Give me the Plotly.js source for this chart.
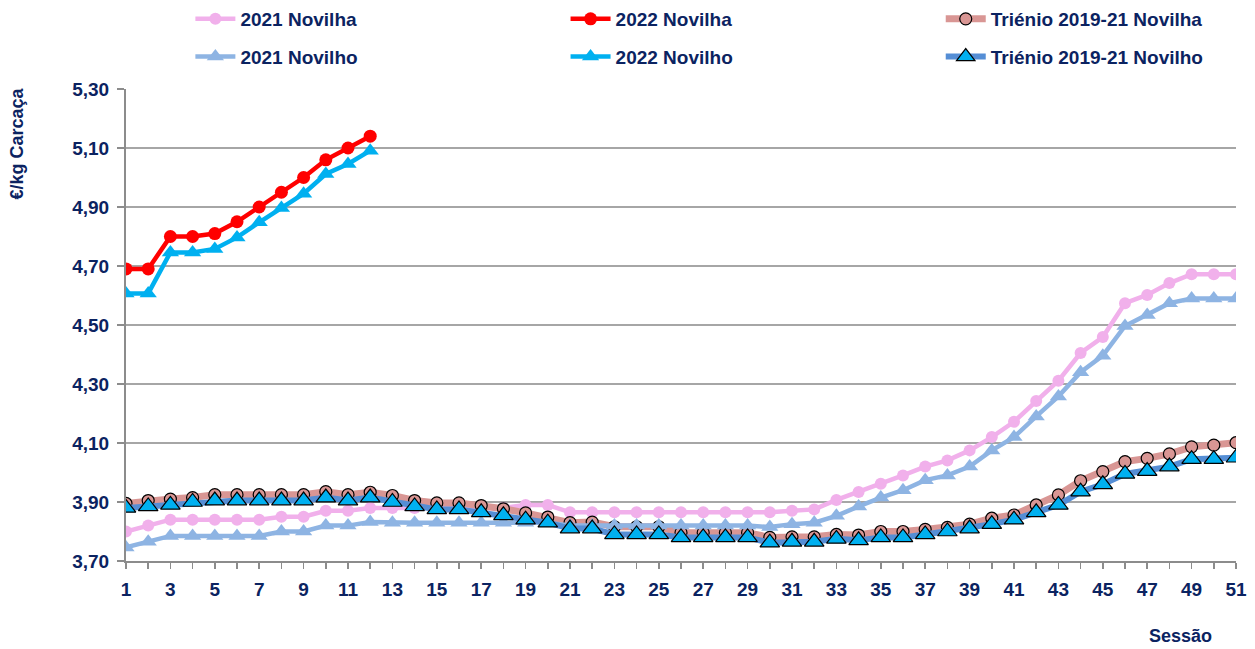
<!DOCTYPE html>
<html>
<head>
<meta charset="utf-8">
<script src="https://cdn.plot.ly/plotly-3.0.1.min.js"></script>
<style>body{margin:0;background:#fff}#chart{width:1255px;height:649px}</style>
</head>
<body>
<div id="chart"></div>
<script>
const sessions = Array.from({length: 51}, (_, i) => i + 1);

const novilha2021 = [3.80,3.82,3.84,3.84,3.84,3.84,3.84,3.85,3.85,3.87,3.87,3.88,3.88,3.88,3.88,3.88,3.88,3.88,3.89,3.89,
  3.865,3.865,3.865,3.865,3.865,3.865,3.865,3.865,3.865,3.865,3.87,3.875,3.907,3.934,3.962,3.99,4.02,4.041,4.075,4.12,
  4.172,4.242,4.311,4.405,4.459,4.574,4.602,4.642,4.672,4.672,4.672];

const novilha2022 = [4.69,4.69,4.80,4.80,4.81,4.85,4.90,4.95,5.00,5.06,5.10,5.14];

const novilhaTrienio = [3.895,3.905,3.91,3.915,3.925,3.925,3.925,3.925,3.925,3.935,3.925,3.933,3.922,3.905,3.897,3.897,3.888,3.877,3.863,3.849,
  3.83,3.832,3.816,3.816,3.816,3.796,3.796,3.796,3.796,3.78,3.782,3.782,3.79,3.788,3.80,3.80,3.807,3.814,3.825,3.845,
  3.856,3.89,3.924,3.972,4.003,4.037,4.048,4.063,4.087,4.093,4.101];

const novilho2021 = [3.746,3.765,3.785,3.785,3.785,3.785,3.785,3.80,3.80,3.82,3.82,3.832,3.83,3.83,3.83,3.83,3.83,3.83,3.83,3.83,
  3.82,3.82,3.82,3.82,3.82,3.82,3.82,3.82,3.82,3.815,3.825,3.83,3.853,3.885,3.915,3.94,3.974,3.99,4.02,4.075,
  4.12,4.19,4.258,4.34,4.396,4.497,4.534,4.574,4.59,4.59,4.59];

const novilho2022 = [4.607,4.607,4.746,4.746,4.758,4.797,4.848,4.897,4.945,5.012,5.046,5.091];

const novilhoTrienio = [3.88,3.885,3.89,3.90,3.905,3.905,3.905,3.905,3.905,3.915,3.905,3.915,3.90,3.885,3.875,3.875,3.865,3.855,3.84,3.83,
  3.81,3.81,3.79,3.79,3.79,3.78,3.78,3.78,3.78,3.762,3.765,3.765,3.775,3.77,3.78,3.78,3.79,3.80,3.81,3.825,
  3.84,3.865,3.89,3.935,3.96,3.995,4.005,4.02,4.045,4.045,4.05];

const names = ['2021 Novilha','2022 Novilha','Triénio 2019-21 Novilha','2021 Novilho','2022 Novilho','Triénio 2019-21 Novilho'];

const navy = '#0B2361';
const FONT = 'Liberation Sans, Arial, sans-serif';

function tr(y, name, lineColor, lw, sym, msize, mfill, mline, legend, rank) {
  return {
    x: sessions.slice(0, y.length), y: y, name: name, type: 'scatter', mode: 'lines+markers',
    line: {color: lineColor, width: lw},
    marker: {symbol: sym, size: msize, color: mfill, line: {color: mline ? '#000000' : mfill, width: mline ? 1.2 : 0}},
    legend: legend, legendrank: rank, legendgroup: name, hoverinfo: 'x+y'
  };
}

const data = [
  tr(novilha2021, names[0], '#F1B0EB', 4.5, 'circle', 12, '#F1B0EB', false, 'legend', 1),
  tr(novilha2022, names[1], '#FF0000', 4.5, 'circle', 13, '#FF0000', false, 'legend2', 1),
  tr(novilhaTrienio, names[2], '#D99694', 7, 'circle', 12, '#D99694', true, 'legend3', 1),
  tr(novilho2021, names[3], '#8EB4E3', 4.5, 'triangle-up', 15, '#8EB4E3', false, 'legend', 2),
  tr(novilho2022, names[4], '#00B0F0', 4.5, 'triangle-up', 15, '#00B0F0', false, 'legend2', 2),
  tr(novilhoTrienio, names[5], '#558ED5', 6, 'triangle-up', 17, '#00B0F0', true, 'legend3', 2)
];

function leg(x) {
  return {x: x, y: 1.0, xref: 'paper', yref: 'container', xanchor: 'left', yanchor: 'top', orientation: 'v', tracegroupgap: 10,
    font: {family: FONT, size: 19, color: navy, weight: 'bold'}, bgcolor: 'rgba(0,0,0,0)', itemwidth: 40};
}

const layout = {
  width: 1255, height: 649,
  margin: {l: 126, r: 19, t: 89, b: 88},
  paper_bgcolor: '#ffffff', plot_bgcolor: '#ffffff',
  separators: ', ',
  font: {family: FONT, color: navy},
  showlegend: true,
  legend: leg(0.058),
  legend2: leg(0.396),
  legend3: leg(0.734),
  xaxis: {
    range: [1, 51], tick0: 1, dtick: 2, showgrid: false, zeroline: false,
    showline: true, linecolor: '#8C8C8C', linewidth: 2,
    ticks: 'outside', ticklen: 6, tickwidth: 1.5, tickcolor: '#8C8C8C',
    minor: {dtick: 1, tick0: 1, ticks: 'outside', ticklen: 6, tickwidth: 1.5, tickcolor: '#8C8C8C', showgrid: false},
    tickfont: {family: FONT, size: 19, color: navy, weight: 'bold'},
    ticklabelstandoff: 4
  },
  yaxis: {
    range: [3.7, 5.3], tick0: 3.7, dtick: 0.2, tickformat: '.2f',
    showgrid: true, gridcolor: '#A6A6A6', gridwidth: 1.5, zeroline: false,
    showline: true, linecolor: '#8C8C8C', linewidth: 2,
    ticks: 'outside', ticklen: 7, tickwidth: 1.5, tickcolor: '#8C8C8C',
    tickfont: {family: FONT, size: 19, color: navy, weight: 'bold'},
    ticklabelstandoff: 4
  },
  annotations: [
    {text: '€/kg Carcaça', xref: 'paper', yref: 'paper', x: -0.098, y: 0.885, textangle: -90,
      showarrow: false, xanchor: 'center', yanchor: 'middle', font: {family: FONT, size: 18, color: navy, weight: 'bold'}},
    {text: 'Sessão', xref: 'paper', yref: 'paper', x: 0.950, y: -0.159,
      showarrow: false, xanchor: 'center', yanchor: 'middle', font: {family: FONT, size: 18, color: navy, weight: 'bold'}}
  ]
};

Plotly.newPlot('chart', data, layout, {displayModeBar: false, staticPlot: true});
</script>
</body>
</html>
